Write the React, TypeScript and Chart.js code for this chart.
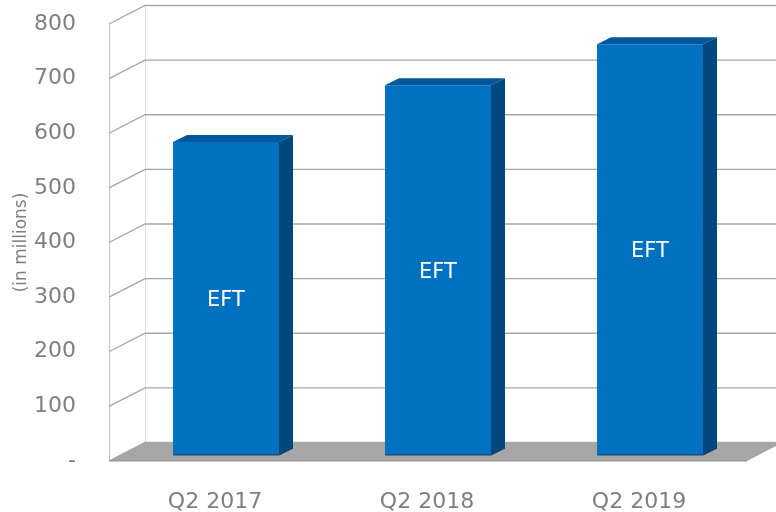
import React, { useEffect, useRef } from 'react';
import { Chart, registerables } from 'chart.js';

Chart.register(...registerables);

// ---- Data ----
const categories: string[] = ['Q2 2017', 'Q2 2018', 'Q2 2019'];
const eftValues: number[] = [573, 677, 752];
const seriesLabel = 'EFT';
const yMin = 0;
const yMax = 800;
const yStep = 100;
const yAxisTitle = '(in millions)';

// ---- Styling ----
const FONT = '"DejaVu Sans", sans-serif';
const TEXT_GREY = '#7f7f7f';
const BAR_FRONT = '#0070C0';
const BAR_TOP = '#00589B';
const BAR_SIDE = '#00487F';
const WALL = { dx: 36, dy: -18.5 };
const BAR_SHIFT = { dx: 11, dy: -6 };
const BAR_DEPTH = { dx: 14, dy: -7 };

const threeDPlugin = {
  id: 'threeD',
  beforeDatasetsDraw(chart: any) {
    const { ctx, chartArea: a, scales } = chart;
    const y = scales.y;
    const W = chart.width;
    ctx.save();
    const ticks: number[] = [];
    for (let v = yMin; v <= yMax; v += yStep) ticks.push(v);
    // left wall front edge
    ctx.strokeStyle = '#c4c4c4';
    ctx.lineWidth = 1;
    ctx.beginPath();
    ctx.moveTo(a.left + 0.5, y.getPixelForValue(yMax));
    ctx.lineTo(a.left + 0.5, y.getPixelForValue(yMin));
    ctx.stroke();
    // back wall left edge
    ctx.strokeStyle = '#dcdcdc';
    ctx.beginPath();
    ctx.moveTo(a.left + WALL.dx + 0.5, y.getPixelForValue(yMax) + WALL.dy);
    ctx.lineTo(a.left + WALL.dx + 0.5, y.getPixelForValue(yMin) + WALL.dy);
    ctx.stroke();
    // gridlines
    ctx.strokeStyle = '#a6a6a6';
    ctx.lineWidth = 1.4;
    ticks.forEach((v) => {
      const py = y.getPixelForValue(v);
      ctx.beginPath();
      ctx.moveTo(a.left, py);
      ctx.lineTo(a.left + WALL.dx, py + WALL.dy);
      ctx.lineTo(W, py + WALL.dy);
      ctx.stroke();
    });
    // floor
    const y0 = y.getPixelForValue(yMin);
    ctx.fillStyle = '#a6a6a6';
    ctx.beginPath();
    ctx.moveTo(a.left, y0);
    ctx.lineTo(a.right + 2, y0);
    ctx.lineTo(a.right + 2 + WALL.dx, y0 + WALL.dy);
    ctx.lineTo(a.left + WALL.dx, y0 + WALL.dy);
    ctx.closePath();
    ctx.fill();
    ctx.strokeStyle = '#909090';
    ctx.lineWidth = 1.2;
    ctx.beginPath();
    ctx.moveTo(a.left, y0);
    ctx.lineTo(a.right + 2, y0);
    ctx.stroke();
    // shift bars into depth
    ctx.translate(BAR_SHIFT.dx, BAR_SHIFT.dy);
  },
  afterDatasetsDraw(chart: any) {
    const { ctx } = chart;
    const meta = chart.getDatasetMeta(0);
    meta.data.forEach((el: any) => {
      const { x, y, width, base } = el.getProps(['x', 'y', 'width', 'base'], true);
      const l = x - width / 2;
      const r = x + width / 2;
      // top face
      ctx.fillStyle = BAR_TOP;
      ctx.beginPath();
      ctx.moveTo(l, y);
      ctx.lineTo(l + BAR_DEPTH.dx, y + BAR_DEPTH.dy);
      ctx.lineTo(r + BAR_DEPTH.dx, y + BAR_DEPTH.dy);
      ctx.lineTo(r, y);
      ctx.closePath();
      ctx.fill();
      // side face
      ctx.fillStyle = BAR_SIDE;
      ctx.beginPath();
      ctx.moveTo(r, y);
      ctx.lineTo(r + BAR_DEPTH.dx, y + BAR_DEPTH.dy);
      ctx.lineTo(r + BAR_DEPTH.dx, base + BAR_DEPTH.dy);
      ctx.lineTo(r, base);
      ctx.closePath();
      ctx.fill();
      // base edge shadow
      ctx.strokeStyle = '#1f4060';
      ctx.lineWidth = 1.2;
      ctx.beginPath();
      ctx.moveTo(l, base);
      ctx.lineTo(r, base);
      ctx.lineTo(r + BAR_DEPTH.dx, base + BAR_DEPTH.dy);
      ctx.stroke();
      // label
      ctx.fillStyle = '#ffffff';
      ctx.font = `21px ${FONT}`;
      ctx.textAlign = 'center';
      ctx.textBaseline = 'middle';
      ctx.fillText(seriesLabel, x, (y + base) / 2 + 2);
    });
    ctx.restore();
  },
};

export default function App() {
  const ref = useRef<HTMLCanvasElement | null>(null);
  useEffect(() => {
    if (!ref.current) return;
    const chart = new Chart(ref.current, {
      type: 'bar',
      data: {
        labels: categories,
        datasets: [
          {
            label: seriesLabel,
            data: eftValues,
            backgroundColor: BAR_FRONT,
            borderWidth: 0,
            categoryPercentage: 0.5,
            barPercentage: 1,
            clip: false as any,
          },
        ],
      },
      options: {
        animation: false,
        responsive: true,
        maintainAspectRatio: false,
        layout: { padding: { top: 24, right: 31, left: 0, bottom: 0 } },
        plugins: { legend: { display: false }, tooltip: { enabled: false } },
        scales: {
          x: {
            grid: { display: false },
            border: { display: false },
            ticks: { color: TEXT_GREY, font: { family: FONT, size: 22 }, padding: 20 },
            afterFit: (s: any) => {
              s.height = 51;
              s.paddingLeft = 0;
              s.paddingRight = 0;
            },
          },
          y: {
            min: yMin,
            max: yMax,
            grid: { display: false, drawTicks: false },
            border: { display: false },
            ticks: {
              stepSize: yStep,
              color: TEXT_GREY,
              font: { family: FONT, size: 22 },
              padding: 33,
              callback: (v: any) => (Number(v) === 0 ? '-' : String(v)),
            },
            title: {
              display: true,
              text: yAxisTitle,
              color: TEXT_GREY,
              font: { family: FONT, size: 17 },
              padding: { top: 11, bottom: 0 },
            },
            afterFit: (s: any) => {
              s.width = 109;
              s.paddingTop = 0;
              s.paddingBottom = 0;
            },
          },
        },
      },
      plugins: [threeDPlugin],
    });
    return () => chart.destroy();
  }, []);
  return (
    <div style={{ position: 'fixed', left: 0, top: 0, width: 776, height: 512, background: '#fff' }}>
      <canvas ref={ref} />
    </div>
  );
}
